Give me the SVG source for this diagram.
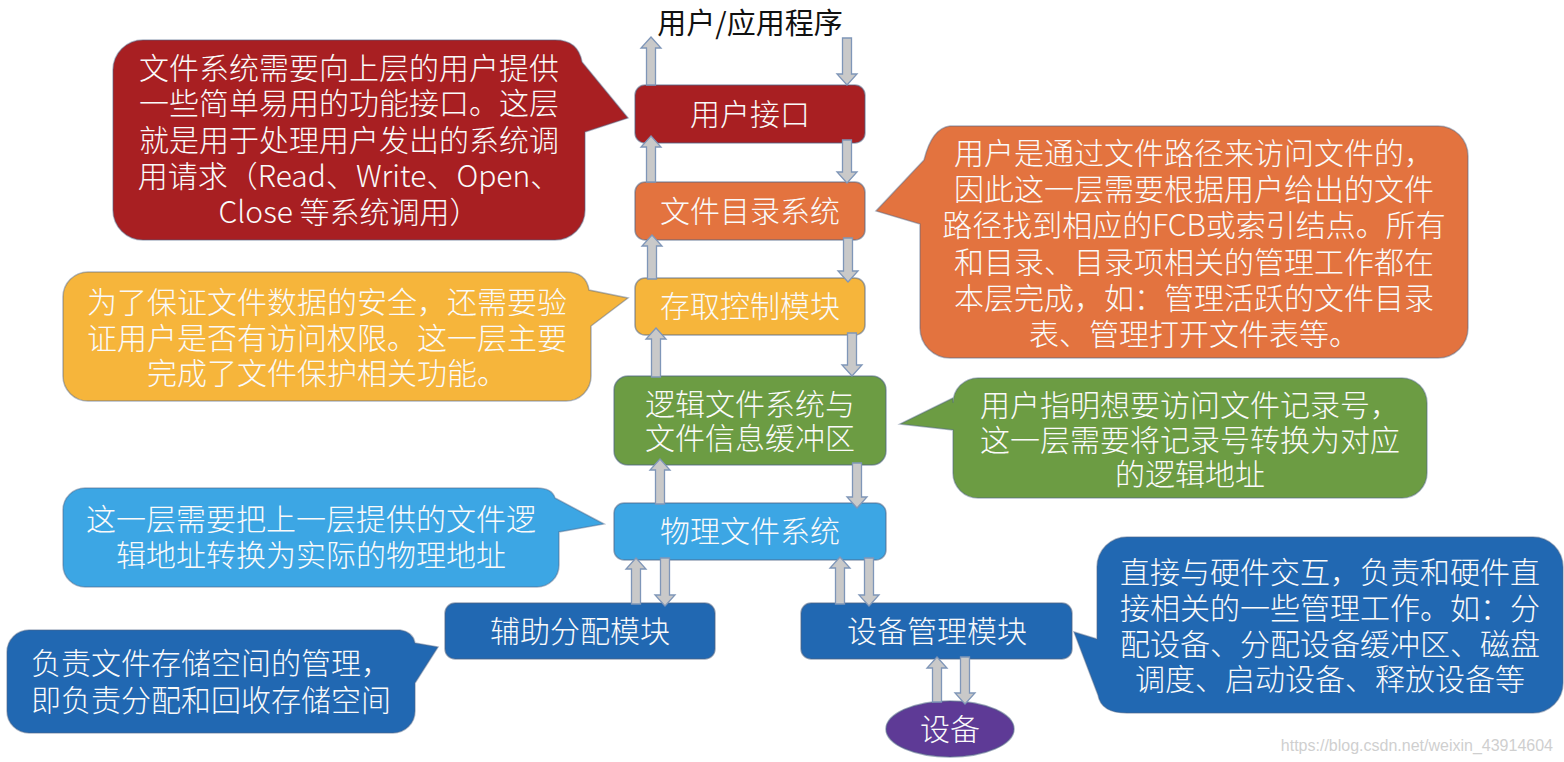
<svg xmlns="http://www.w3.org/2000/svg" width="1564" height="762" viewBox="0 0 1564 762">
<defs>
<style>
text{font-family:"Noto Sans CJK SC","Noto Sans",sans-serif;font-size:30px;text-anchor:middle;}
.w{fill:#fafafa;font-weight:300;}
.t{fill:#111;font-weight:400;font-size:29px;}
.box{stroke:#4d6384;stroke-opacity:0.55;stroke-width:1.5;}
.co{stroke:#4d6384;stroke-opacity:0.45;stroke-width:1.5;}
.arr{fill:#c9c9c9;stroke:#7f96b8;stroke-width:1.3;stroke-linejoin:miter;}
.red{fill:#a81f22;}
.org{fill:#e3733f;}
.yel{fill:#f6b53b;}
.grn{fill:#6c9c43;}
.lbl{fill:#3ca6e4;}
.dbl{fill:#2168b2;}
.pur{fill:#5e3a96;}
.wm{font-family:"Liberation Sans",Arial,sans-serif;font-size:16px;fill:#cfcfcf;text-anchor:end;}
</style>
</defs>
<rect x="0" y="0" width="1564" height="762" fill="#ffffff"/>

<g id="title">
<text class="t" x="750" y="34">用户/应用程序</text>
</g>

<g id="callout-red">
<path class="red co" d="M143,40 L555,40 Q578,40 582,62 L628,118 L585,132 L585,210 A30,30 0 0 1 555,240 L143,240 A30,30 0 0 1 113,210 L113,70 A30,30 0 0 1 143,40 Z"/>
<text class="w" x="349" y="79">文件系统需要向上层的用户提供</text>
<text class="w" x="349" y="114">一些简单易用的功能接口。这层</text>
<text class="w" x="349" y="151">就是用于处理用户发出的系统调</text>
<text class="w" x="349" y="187">用请求（Read、Write、Open、</text>
<text class="w" x="349" y="223">Close 等系统调用）</text>
</g>

<g id="callout-orange">
<path class="org co" d="M950,126 L1438,126 A30,30 0 0 1 1468,156 L1468,328 A30,30 0 0 1 1438,358 L950,358 A30,30 0 0 1 920,328 L920,224 L876,211 L924,160 Q932,128 950,126 Z"/>
<text class="w" x="1194" y="164">用户是通过文件路径来访问文件的，</text>
<text class="w" x="1194" y="200">因此这一层需要根据用户给出的文件</text>
<text class="w" x="1194" y="236">路径找到相应的FCB或索引结点。所有</text>
<text class="w" x="1194" y="273">和目录、目录项相关的管理工作都在</text>
<text class="w" x="1194" y="309">本层完成，如：管理活跃的文件目录</text>
<text class="w" x="1194" y="345">表、管理打开文件表等。</text>
</g>

<g id="callout-yellow">
<path class="yel co" d="M88,272 L566,272 Q586,272 589,290 L628,298 L591,326 L591,376 A25,25 0 0 1 566,401 L88,401 A25,25 0 0 1 63,376 L63,297 A25,25 0 0 1 88,272 Z"/>
<text class="w" x="327" y="313">为了保证文件数据的安全，还需要验</text>
<text class="w" x="327" y="349">证用户是否有访问权限。这一层主要</text>
<text class="w" x="327" y="384">完成了文件保护相关功能。</text>
</g>

<g id="callout-lightblue">
<path class="lbl co" d="M85,488 L537,488 Q552,488 555,498 L604,524 L559,532 L559,565 A22,22 0 0 1 537,587 L85,587 A22,22 0 0 1 63,565 L63,510 A22,22 0 0 1 85,488 Z"/>
<text class="w" x="311" y="530">这一层需要把上一层提供的文件逻</text>
<text class="w" x="311" y="566">辑地址转换为实际的物理地址</text>
</g>

<g id="callout-green">
<path class="grn co" d="M978,378 L1402,378 A25,25 0 0 1 1427,403 L1427,473 A25,25 0 0 1 1402,498 L978,498 A25,25 0 0 1 953,473 L953,430 L900,424 L953,398 L953,403 A25,25 0 0 1 978,378 Z"/>
<text class="w" x="1190" y="416">用户指明想要访问文件记录号，</text>
<text class="w" x="1190" y="451">这一层需要将记录号转换为对应</text>
<text class="w" x="1190" y="485">的逻辑地址</text>
</g>

<g id="callout-darkblue-right">
<path class="dbl co" d="M1127,537 L1533,537 A30,30 0 0 1 1563,567 L1563,683 A30,30 0 0 1 1533,713 L1127,713 Q1101,713 1098,695 L1074,632 L1097,639 L1097,567 A30,30 0 0 1 1127,537 Z"/>
<text class="w" x="1330" y="583">直接与硬件交互，负责和硬件直</text>
<text class="w" x="1330" y="619">接相关的一些管理工作。如：分</text>
<text class="w" x="1330" y="655">配设备、分配设备缓冲区、磁盘</text>
<text class="w" x="1330" y="690">调度、启动设备、释放设备等</text>
</g>

<g id="callout-darkblue-left">
<path class="dbl co" d="M29,630 L400,630 Q413,632 415,643 L438,647 L415,683 L415,711 A22,22 0 0 1 393,733 L29,733 A22,22 0 0 1 7,711 L7,652 A22,22 0 0 1 29,630 Z"/>
<text class="w" x="211" y="674">负责文件存储空间的管理，</text>
<text class="w" x="211" y="711">即负责分配和回收存储空间</text>
</g>

<g id="node-user-interface">
<rect class="red box" x="635" y="85" width="230" height="58" rx="10"/>
<text class="w" x="750" y="125">用户接口</text>
</g>
<g id="node-dir-system">
<rect class="org box" x="635" y="182" width="230" height="58" rx="10"/>
<text class="w" x="750" y="222">文件目录系统</text>
</g>
<g id="node-access-control">
<rect class="yel box" x="635" y="278" width="230" height="57" rx="10"/>
<text class="w" x="750" y="317">存取控制模块</text>
</g>
<g id="node-logical-fs">
<rect class="grn box" x="614" y="376" width="272" height="89" rx="14"/>
<text class="w" x="750" y="415">逻辑文件系统与</text>
<text class="w" x="750" y="449">文件信息缓冲区</text>
</g>
<g id="node-physical-fs">
<rect class="lbl box" x="614" y="503" width="272" height="57" rx="10"/>
<text class="w" x="750" y="542">物理文件系统</text>
</g>
<g id="node-alloc">
<rect class="dbl box" x="445" y="603" width="270" height="56" rx="10"/>
<text class="w" x="580" y="642">辅助分配模块</text>
</g>
<g id="node-device-mgmt">
<rect class="dbl box" x="801" y="603" width="271" height="56" rx="10"/>
<text class="w" x="937" y="642">设备管理模块</text>
</g>
<g id="node-device">
<ellipse class="pur box" cx="950" cy="729" rx="64" ry="28"/>
<text class="w" x="950" y="740">设备</text>
</g>

<g id="connectors">
<path class="arr" d="M651,37 L661,48 L655.5,48 L655.5,85 L646.5,85 L646.5,48 L641,48 Z"/>
<path class="arr" d="M651,136 L661,147 L655.5,147 L655.5,182 L646.5,182 L646.5,147 L641,147 Z"/>
<path class="arr" d="M652,235 L662,246 L656.5,246 L656.5,279 L647.5,279 L647.5,246 L642,246 Z"/>
<path class="arr" d="M656,328 L666,339 L660.5,339 L660.5,377 L651.5,377 L651.5,339 L646,339 Z"/>
<path class="arr" d="M660,459 L670,470 L664.5,470 L664.5,504 L655.5,504 L655.5,470 L650,470 Z"/>
<path class="arr" d="M636,558 L646,569 L640.5,569 L640.5,604 L631.5,604 L631.5,569 L626,569 Z"/>
<path class="arr" d="M840,557 L850,568 L844.5,568 L844.5,604 L835.5,604 L835.5,568 L830,568 Z"/>
<path class="arr" d="M937,657 L947,668 L941.5,668 L941.5,702 L932.5,702 L932.5,668 L927,668 Z"/>
<path class="arr" d="M842.5,38 L851.5,38 L851.5,74 L857,74 L847,85 L837,74 L842.5,74 Z"/>
<path class="arr" d="M842.5,140 L851.5,140 L851.5,172 L857,172 L847,183 L837,172 L842.5,172 Z"/>
<path class="arr" d="M843.5,238 L852.5,238 L852.5,271 L858,271 L848,282 L838,271 L843.5,271 Z"/>
<path class="arr" d="M847.5,333 L856.5,333 L856.5,365 L862,365 L852,376 L842,365 L847.5,365 Z"/>
<path class="arr" d="M852.5,463 L861.5,463 L861.5,497 L867,497 L857,508 L847,497 L852.5,497 Z"/>
<path class="arr" d="M660.5,558 L669.5,558 L669.5,595 L675,595 L665,606 L655,595 L660.5,595 Z"/>
<path class="arr" d="M864.5,558 L873.5,558 L873.5,595 L879,595 L869,606 L859,595 L864.5,595 Z"/>
<path class="arr" d="M960.5,657 L969.5,657 L969.5,693 L975,693 L965,704 L955,693 L960.5,693 Z"/>
</g>

<g id="watermark">
<text class="wm" x="1553" y="751">https://blog.csdn.net/weixin_43914604</text>
</g>
</svg>
